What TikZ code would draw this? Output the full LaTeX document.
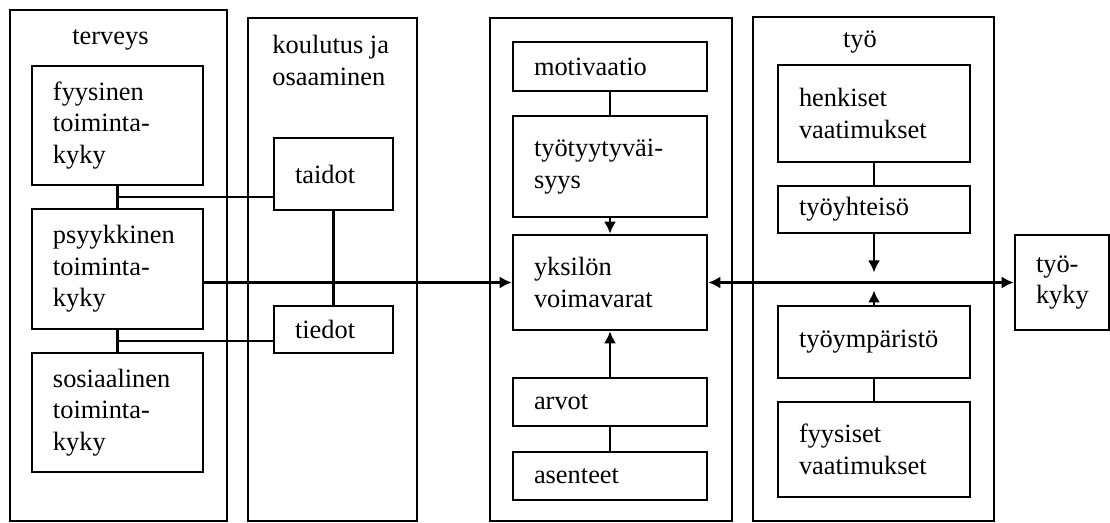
\documentclass[tikz,border=0pt]{standalone}
\usepackage{fontspec}
\setmainfont{Liberation Serif}
\usetikzlibrary{arrows.meta,calc}
\newcommand\fs{\fontsize{13.2pt}{15.8pt}\selectfont}
\tikzset{
  box/.style={draw, line width=1.3pt, inner xsep=10.5pt, inner ysep=0pt, align=left, font=\fs},
  outer/.style={draw, line width=1.1pt, inner sep=0pt},
  lbl/.style={inner sep=0pt, font=\fs},
  conn/.style={line width=1.1pt},
  arr/.style={line width=1.1pt, -{Latex[length=6pt,width=6pt]}},
  darr/.style={line width=1.1pt, {Latex[length=6pt,width=6pt]}-{Latex[length=6pt,width=6pt]}}
}
\newcommand\bx[6]{%
  \pgfmathsetmacro\bxw{#4*0.5}\pgfmathsetmacro\bxh{#5*0.5}\pgfmathsetmacro\bxt{(#4-42)*0.5}%
  \node[box, minimum width=\bxw pt, minimum height=\bxh pt, text width=\bxt pt] (#1) at (#2,#3) {#6};}
\newcommand\obx[5]{%
  \pgfmathsetmacro\bxw{#4*0.5}\pgfmathsetmacro\bxh{#5*0.5}%
  \node[outer, minimum width=\bxw pt, minimum height=\bxh pt] (#1) at (#2,#3) {};}
\begin{document}
\begin{tikzpicture}[x=0.5pt,y=-0.5pt]
\useasboundingbox (0,0) rectangle (1110,523);
% outer frames
\obx{terv}{118.5}{265.5}{217}{511}
\obx{koul}{332.5}{269.5}{169}{503}
\obx{mid}{611}{269.5}{242}{503}
\obx{tyo}{873.5}{269}{241}{504}
% labels
\node[lbl, anchor=base] (lterv) at (110.5,45) {terveys};
\node[lbl, anchor=north west, align=left] (lkoul) at (272,35) {koulutus ja\\osaaminen};
\node[lbl, anchor=base] (ltyo) at (860,48) {työ};
% terveys
\bx{fyys}{117.5}{125.5}{171}{119}{fyysinen\\toiminta-\\kyky}
\bx{psyk}{117.5}{269}{171}{120}{psyykkinen\\toiminta-\\kyky}
\bx{sos}{117.5}{412.5}{171}{119}{sosiaalinen\\toiminta-\\kyky}
% koulutus
\bx{taidot}{333.5}{174}{119}{72}{taidot}
\bx{tiedot}{333.5}{329.5}{119}{47}{tiedot}
% middle
\bx{motiv}{610}{66.5}{194}{49}{motivaatio}
\bx{tyyt}{610}{166.5}{194}{101}{työtyytyväi-\\syys\\[4pt]}
\bx{yks}{610}{282.5}{194}{95}{yksilön\\voimavarat}
\bx{arvot}{610}{402}{194}{48}{arvot}
\bx{asent}{610}{476}{194}{48}{asenteet}
% työ
\bx{henk}{874}{113.5}{192}{97}{henkiset\\vaatimukset}
\bx{yht}{874}{209.5}{192}{47}{työyhteisö}
\bx{ymp}{874}{342}{192}{72}{työympäristö}
\bx{fyysv}{874}{449.5}{192}{95}{fyysiset\\vaatimukset}
% työkyky
\bx{kyky}{1062}{282.5}{94}{95}{työ-\\kyky}
% connectors
\draw[conn] (fyys.south) -- (psyk.north);
\coordinate (fp) at ($(fyys.south)!0.5!(psyk.north)$);
\draw[conn] (fp) -- (taidot.west |- fp);
\draw[conn] (psyk.south) -- (sos.north);
\coordinate (ps) at ($(psyk.south)!0.5!(sos.north)$);
\draw[conn] (ps) -- (tiedot.west |- ps);
\draw[conn] (taidot.south) -- (tiedot.north);
\draw[arr] (psyk.east |- yks.west) -- (yks.west);
\draw[conn] (motiv.south) -- (tyyt.north);
\draw[arr] (tyyt.south) -- (yks.north);
\draw[arr] (arvot.north) -- (yks.south);
\draw[conn] (arvot.south) -- (asent.north);
\draw[darr] (yks.east) -- (kyky.west);
\draw[conn] (henk.south) -- (yht.north);
\coordinate (jn) at (yht.south |- yks.east);
\coordinate (jnu) at ($(jn)+(0,-10)$);
\coordinate (jnd) at ($(jn)+(0,8)$);
\draw[arr] (yht.south) -- (jnu);
\draw[arr] (ymp.north) -- (jnd);
\draw[conn] (ymp.south) -- (fyysv.north);
\end{tikzpicture}
\end{document}
